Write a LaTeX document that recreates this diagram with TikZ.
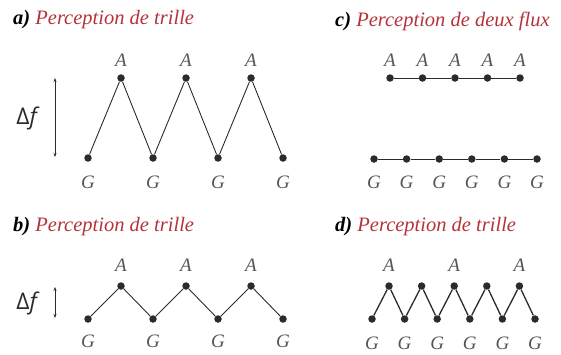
\documentclass[tikz,border=0pt]{standalone}
\usepackage{fontspec}
\setmainfont{Liberation Serif}
\newfontfamily\dfsans{Open Sans}
\usetikzlibrary{arrows.meta,positioning}
\definecolor{stmRed}{HTML}{B3333B}
\definecolor{stmInk}{HTML}{2B2B2B}
\definecolor{stmGray}{HTML}{555555}
\tikzset{
  stm dot/.style={circle, fill=stmInk, minimum size=7.5pt, inner sep=0pt},
  stm line/.style={draw=stmInk, line width=0.9pt},
  stm thick/.style={draw=stmInk, line width=1.3pt},
  stm arrow/.style={draw=stmInk, line width=0.7pt, {Stealth[length=4pt,width=3pt]}-{Stealth[length=4pt,width=3pt]}},
  stm label/.style={font=\fontsize{19}{21}\selectfont\itshape, text=stmGray, inner sep=0pt},
  stm title/.style={font=\fontsize{20.5}{23}\selectfont\itshape, anchor=west, inner sep=0pt},
  stm delta/.style={font=\fontsize{23}{26}\selectfont\dfsans, text=stmInk, inner sep=0pt},
}

\begin{document}
\begin{tikzpicture}[x=1pt,y=-1pt]
\useasboundingbox(0,0)rectangle(561,354);
% a) trille, grand intervalle
\node[stm title](ta)at(13,20){\textbf{a)} \textcolor{stmRed}{Perception de trille}};
\foreach \i/\x in {1/121,2/186,3/251}{\node[stm dot](aA\i)at(\x,78){};\node[stm label](aAl\i)at(\x,60){A};}
\foreach \i/\x in {1/88,2/153,3/218,4/283}{\node[stm dot](aG\i)at(\x,158){};\node[stm label](aGl\i)at(\x,182){G};}
\draw[stm line](aG1)--(aA1)--(aG2)--(aA2)--(aG3)--(aA3)--(aG4);
\coordinate(aT)at(55,78);\coordinate(aB)at(55,157);\draw[stm arrow](aT)--(aB);
\node[stm delta](da)at(28,118){Δ\textit{f}};
% b) trille, petit intervalle
\node[stm title](tb)at(13,227){\textbf{b)} \textcolor{stmRed}{Perception de trille}};
\foreach \i/\x in {1/121,2/186,3/251}{\node[stm dot](bA\i)at(\x,286){};\node[stm label](bAl\i)at(\x,265){A};}
\foreach \i/\x in {1/88,2/153,3/218,4/283}{\node[stm dot](bG\i)at(\x,319){};\node[stm label](bGl\i)at(\x,341){G};}
\draw[stm line](bG1)--(bA1)--(bG2)--(bA2)--(bG3)--(bA3)--(bG4);
\coordinate(bT)at(55,287);\coordinate(bB)at(55,318);\draw[stm arrow](bT)--(bB);
\node[stm delta](db)at(28,303){Δ\textit{f}};
% c) deux flux
\node[stm title](tc)at(335,21){\textbf{c)} \textcolor{stmRed}{Perception de deux flux}};
\foreach \i in {1,...,5}{\node[stm dot](cA\i)at(390+32.5*\i-32.5,78){};\node[stm label](cAl\i)at(390+32.5*\i-32.5,60){A};}
\foreach \i in {1,...,6}{\node[stm dot](cG\i)at(374+32.6*\i-32.6,159){};\node[stm label](cGl\i)at(374+32.6*\i-32.6,182){G};}
\draw[stm line](cA1)--(cA2)--(cA3)--(cA4)--(cA5);
\draw[stm line](cG1)--(cG2)--(cG3)--(cG4)--(cG5)--(cG6);
% d) trille rapide
\node[stm title](td)at(335,227){\textbf{d)} \textcolor{stmRed}{Perception de trille}};
\foreach \i in {1,...,5}{\node[stm dot](dA\i)at(389+32.6*\i-32.6,286){};}
\foreach \i in {1,...,6}{\node[stm dot](dG\i)at(372+32.6*\i-32.6,319){};\node[stm label](dGl\i)at(372+32.6*\i-32.6,343){G};}
\foreach \i in {1,3,5}{\node[stm label](dAl\i)at(389+32.6*\i-32.6,265){A};}
\draw[stm thick](dG1)--(dA1)--(dG2)--(dA2)--(dG3)--(dA3)--(dG4)--(dA4)--(dG5)--(dA5)--(dG6);
\end{tikzpicture}
\end{document}
